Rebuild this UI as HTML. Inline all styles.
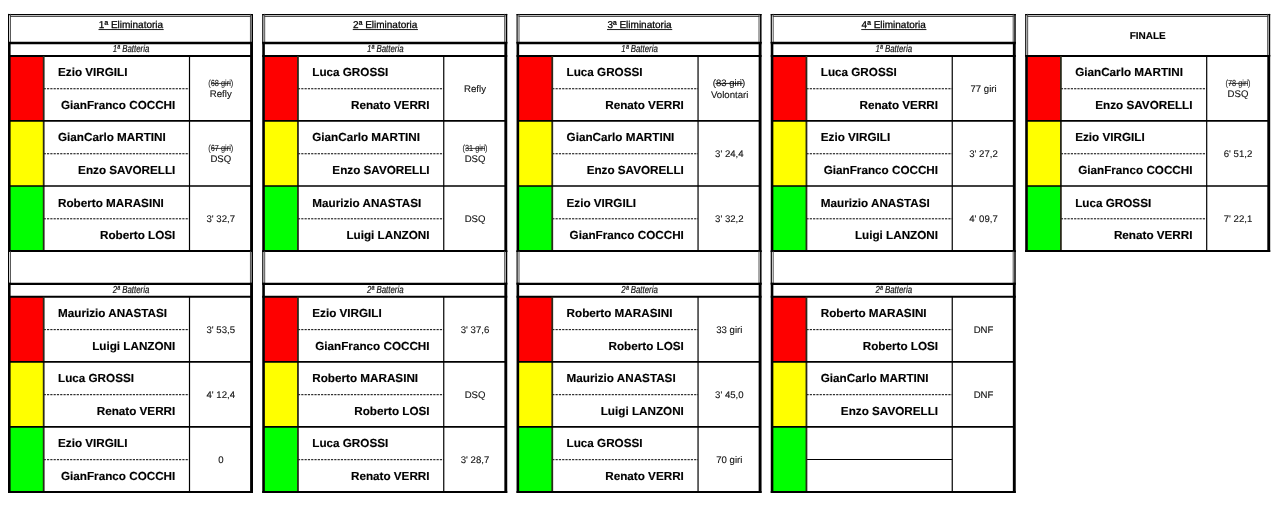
<!DOCTYPE html>
<html><head><meta charset="utf-8"><title>Eliminatorie</title>
<style>html,body{margin:0;padding:0;background:#fff;overflow:hidden;font-family:"Liberation Sans",sans-serif;}
svg{display:block;will-change:transform;font-family:"Liberation Sans",sans-serif;}</style></head>
<body>
<svg width="1280" height="505" viewBox="0 0 1280 505" font-family="Liberation Sans, sans-serif" text-rendering="geometricPrecision">
<rect x="10.00" y="56.00" width="33.70" height="64.90" fill="#fe0000"/>
<rect x="10.00" y="120.90" width="33.70" height="65.10" fill="#ffff00"/>
<rect x="10.00" y="186.00" width="33.70" height="65.00" fill="#00ff00"/>
<rect x="10.00" y="296.80" width="33.70" height="65.10" fill="#fe0000"/>
<rect x="10.00" y="361.90" width="33.70" height="65.00" fill="#ffff00"/>
<rect x="10.00" y="426.90" width="33.70" height="65.00" fill="#00ff00"/>
<rect x="264.25" y="56.00" width="33.70" height="64.90" fill="#fe0000"/>
<rect x="264.25" y="120.90" width="33.70" height="65.10" fill="#ffff00"/>
<rect x="264.25" y="186.00" width="33.70" height="65.00" fill="#00ff00"/>
<rect x="264.25" y="296.80" width="33.70" height="65.10" fill="#fe0000"/>
<rect x="264.25" y="361.90" width="33.70" height="65.00" fill="#ffff00"/>
<rect x="264.25" y="426.90" width="33.70" height="65.00" fill="#00ff00"/>
<rect x="518.55" y="56.00" width="33.70" height="64.90" fill="#fe0000"/>
<rect x="518.55" y="120.90" width="33.70" height="65.10" fill="#ffff00"/>
<rect x="518.55" y="186.00" width="33.70" height="65.00" fill="#00ff00"/>
<rect x="518.55" y="296.80" width="33.70" height="65.10" fill="#fe0000"/>
<rect x="518.55" y="361.90" width="33.70" height="65.00" fill="#ffff00"/>
<rect x="518.55" y="426.90" width="33.70" height="65.00" fill="#00ff00"/>
<rect x="772.75" y="56.00" width="33.70" height="64.90" fill="#fe0000"/>
<rect x="772.75" y="120.90" width="33.70" height="65.10" fill="#ffff00"/>
<rect x="772.75" y="186.00" width="33.70" height="65.00" fill="#00ff00"/>
<rect x="772.75" y="296.80" width="33.70" height="65.10" fill="#fe0000"/>
<rect x="772.75" y="361.90" width="33.70" height="65.00" fill="#ffff00"/>
<rect x="772.75" y="426.90" width="33.70" height="65.00" fill="#00ff00"/>
<rect x="1027.20" y="56.00" width="33.70" height="64.90" fill="#fe0000"/>
<rect x="1027.20" y="120.90" width="33.70" height="65.10" fill="#ffff00"/>
<rect x="1027.20" y="186.00" width="33.70" height="65.00" fill="#00ff00"/>
<line x1="8.00" y1="14.60" x2="253.00" y2="14.60" stroke="#000" stroke-width="1.3" />
<line x1="10.00" y1="16.50" x2="251.00" y2="16.50" stroke="#3c3c3c" stroke-width="0.9" />
<line x1="8.55" y1="13.90" x2="8.55" y2="43.00" stroke="#000" stroke-width="1.15" />
<line x1="10.45" y1="13.90" x2="10.45" y2="43.00" stroke="#3c3c3c" stroke-width="0.9" />
<line x1="252.25" y1="13.90" x2="252.25" y2="43.00" stroke="#000" stroke-width="1.5" />
<line x1="250.45" y1="13.90" x2="250.45" y2="43.00" stroke="#3c3c3c" stroke-width="0.9" />
<text x="131.00" y="28.20" font-size="10" text-anchor="middle" font-weight="normal" font-style="normal" fill="#000" stroke="#000" stroke-width="0.25">1ª Eliminatoria</text>
<line x1="98.50" y1="29.55" x2="163.70" y2="29.55" stroke="#000" stroke-width="0.9" />
<line x1="8.00" y1="43.00" x2="253.00" y2="43.00" stroke="#000" stroke-width="2.3" />
<line x1="9.30" y1="42.00" x2="9.30" y2="252.00" stroke="#000" stroke-width="2.6" />
<line x1="251.55" y1="42.00" x2="251.55" y2="252.00" stroke="#000" stroke-width="2.9" />
<text x="131.00" y="52.20" font-size="10.2" text-anchor="middle" font-weight="normal" font-style="italic" fill="#111" textLength="36.6" lengthAdjust="spacingAndGlyphs" stroke="#111" stroke-width="0.2">1ª Batteria</text>
<line x1="8.00" y1="56.00" x2="253.00" y2="56.00" stroke="#000" stroke-width="2.1" />
<line x1="43.70" y1="88.75" x2="189.50" y2="88.75" stroke="#000" stroke-width="1" stroke-dasharray="2.2 1.1"/>
<text x="58.00" y="76.45" font-size="11.7" text-anchor="start" font-weight="bold" font-style="normal" fill="#000" stroke="#000" stroke-width="0.15">Ezio VIRGILI</text>
<text x="175.30" y="109.25" font-size="11.7" text-anchor="end" font-weight="bold" font-style="normal" fill="#000" stroke="#000" stroke-width="0.15">GianFranco COCCHI</text>
<text x="220.80" y="86.05" font-size="8.8" text-anchor="middle" font-weight="normal" font-style="normal" fill="#1a1a1a" textLength="25.0" lengthAdjust="spacingAndGlyphs" stroke="#1a1a1a" stroke-width="0.1">(68 giri)</text>
<line x1="211.20" y1="83.45" x2="230.60" y2="83.45" stroke="#1a1a1a" stroke-width="0.8" />
<text x="220.80" y="97.45" font-size="9.6" text-anchor="middle" font-weight="normal" font-style="normal" fill="#111" stroke="#111" stroke-width="0.12">Refly</text>
<line x1="43.70" y1="153.75" x2="189.50" y2="153.75" stroke="#000" stroke-width="1" stroke-dasharray="2.2 1.1"/>
<text x="58.00" y="141.45" font-size="11.7" text-anchor="start" font-weight="bold" font-style="normal" fill="#000" stroke="#000" stroke-width="0.15">GianCarlo MARTINI</text>
<text x="175.30" y="174.25" font-size="11.7" text-anchor="end" font-weight="bold" font-style="normal" fill="#000" stroke="#000" stroke-width="0.15">Enzo SAVORELLI</text>
<text x="220.80" y="151.05" font-size="8.8" text-anchor="middle" font-weight="normal" font-style="normal" fill="#1a1a1a" textLength="25.0" lengthAdjust="spacingAndGlyphs" stroke="#1a1a1a" stroke-width="0.1">(67 giri)</text>
<line x1="211.20" y1="148.45" x2="230.60" y2="148.45" stroke="#1a1a1a" stroke-width="0.8" />
<text x="220.80" y="162.45" font-size="9.6" text-anchor="middle" font-weight="normal" font-style="normal" fill="#111" stroke="#111" stroke-width="0.12">DSQ</text>
<line x1="43.70" y1="218.80" x2="189.50" y2="218.80" stroke="#000" stroke-width="1" stroke-dasharray="2.2 1.1"/>
<text x="58.00" y="206.50" font-size="11.7" text-anchor="start" font-weight="bold" font-style="normal" fill="#000" stroke="#000" stroke-width="0.15">Roberto MARASINI</text>
<text x="175.30" y="239.30" font-size="11.7" text-anchor="end" font-weight="bold" font-style="normal" fill="#000" stroke="#000" stroke-width="0.15">Roberto LOSI</text>
<text x="220.80" y="221.90" font-size="9.6" text-anchor="middle" font-weight="normal" font-style="normal" fill="#111" stroke="#111" stroke-width="0.12">3' 32,7</text>
<line x1="43.70" y1="56.00" x2="43.70" y2="251.00" stroke="#2a2a1a" stroke-width="1.8" />
<line x1="189.50" y1="56.00" x2="189.50" y2="251.00" stroke="#000" stroke-width="1.2" />
<line x1="9.00" y1="120.90" x2="252.00" y2="120.90" stroke="#000" stroke-width="1.7" />
<line x1="9.00" y1="186.00" x2="252.00" y2="186.00" stroke="#000" stroke-width="1.7" />
<line x1="8.00" y1="251.00" x2="253.00" y2="251.00" stroke="#000" stroke-width="1.8" />
<line x1="8.55" y1="251.00" x2="8.55" y2="283.80" stroke="#000" stroke-width="1.15" />
<line x1="10.45" y1="251.00" x2="10.45" y2="283.80" stroke="#3c3c3c" stroke-width="0.9" />
<line x1="252.25" y1="251.00" x2="252.25" y2="283.80" stroke="#000" stroke-width="1.5" />
<line x1="250.45" y1="251.00" x2="250.45" y2="283.80" stroke="#3c3c3c" stroke-width="0.9" />
<line x1="8.00" y1="283.80" x2="253.00" y2="283.80" stroke="#000" stroke-width="2.2" />
<line x1="9.30" y1="282.80" x2="9.30" y2="492.90" stroke="#000" stroke-width="2.6" />
<line x1="251.55" y1="282.80" x2="251.55" y2="492.90" stroke="#000" stroke-width="2.9" />
<text x="131.00" y="293.10" font-size="10.2" text-anchor="middle" font-weight="normal" font-style="italic" fill="#111" textLength="36.6" lengthAdjust="spacingAndGlyphs" stroke="#111" stroke-width="0.2">2ª Batteria</text>
<line x1="8.00" y1="296.80" x2="253.00" y2="296.80" stroke="#000" stroke-width="2.1" />
<line x1="43.70" y1="329.65" x2="189.50" y2="329.65" stroke="#000" stroke-width="1" stroke-dasharray="2.2 1.1"/>
<text x="58.00" y="317.35" font-size="11.7" text-anchor="start" font-weight="bold" font-style="normal" fill="#000" stroke="#000" stroke-width="0.15">Maurizio ANASTASI</text>
<text x="175.30" y="350.15" font-size="11.7" text-anchor="end" font-weight="bold" font-style="normal" fill="#000" stroke="#000" stroke-width="0.15">Luigi LANZONI</text>
<text x="220.80" y="332.75" font-size="9.6" text-anchor="middle" font-weight="normal" font-style="normal" fill="#111" stroke="#111" stroke-width="0.12">3' 53,5</text>
<line x1="43.70" y1="394.70" x2="189.50" y2="394.70" stroke="#000" stroke-width="1" stroke-dasharray="2.2 1.1"/>
<text x="58.00" y="382.40" font-size="11.7" text-anchor="start" font-weight="bold" font-style="normal" fill="#000" stroke="#000" stroke-width="0.15">Luca GROSSI</text>
<text x="175.30" y="415.20" font-size="11.7" text-anchor="end" font-weight="bold" font-style="normal" fill="#000" stroke="#000" stroke-width="0.15">Renato VERRI</text>
<text x="220.80" y="397.80" font-size="9.6" text-anchor="middle" font-weight="normal" font-style="normal" fill="#111" stroke="#111" stroke-width="0.12">4' 12,4</text>
<line x1="43.70" y1="459.70" x2="189.50" y2="459.70" stroke="#000" stroke-width="1" stroke-dasharray="2.2 1.1"/>
<text x="58.00" y="447.40" font-size="11.7" text-anchor="start" font-weight="bold" font-style="normal" fill="#000" stroke="#000" stroke-width="0.15">Ezio VIRGILI</text>
<text x="175.30" y="480.20" font-size="11.7" text-anchor="end" font-weight="bold" font-style="normal" fill="#000" stroke="#000" stroke-width="0.15">GianFranco COCCHI</text>
<text x="220.80" y="462.80" font-size="9.6" text-anchor="middle" font-weight="normal" font-style="normal" fill="#111" stroke="#111" stroke-width="0.12">0</text>
<line x1="43.70" y1="296.80" x2="43.70" y2="491.90" stroke="#2a2a1a" stroke-width="1.8" />
<line x1="189.50" y1="296.80" x2="189.50" y2="491.90" stroke="#000" stroke-width="1.2" />
<line x1="9.00" y1="361.90" x2="252.00" y2="361.90" stroke="#000" stroke-width="1.7" />
<line x1="9.00" y1="426.90" x2="252.00" y2="426.90" stroke="#000" stroke-width="1.7" />
<line x1="8.00" y1="491.90" x2="253.00" y2="491.90" stroke="#000" stroke-width="2.0" />
<line x1="262.25" y1="14.60" x2="507.25" y2="14.60" stroke="#000" stroke-width="1.3" />
<line x1="264.25" y1="16.50" x2="505.25" y2="16.50" stroke="#3c3c3c" stroke-width="0.9" />
<line x1="262.80" y1="13.90" x2="262.80" y2="43.00" stroke="#000" stroke-width="1.15" />
<line x1="264.70" y1="13.90" x2="264.70" y2="43.00" stroke="#3c3c3c" stroke-width="0.9" />
<line x1="506.50" y1="13.90" x2="506.50" y2="43.00" stroke="#000" stroke-width="1.5" />
<line x1="504.70" y1="13.90" x2="504.70" y2="43.00" stroke="#3c3c3c" stroke-width="0.9" />
<text x="385.25" y="28.20" font-size="10" text-anchor="middle" font-weight="normal" font-style="normal" fill="#000" stroke="#000" stroke-width="0.25">2ª Eliminatoria</text>
<line x1="352.75" y1="29.55" x2="417.95" y2="29.55" stroke="#000" stroke-width="0.9" />
<line x1="262.25" y1="43.00" x2="507.25" y2="43.00" stroke="#000" stroke-width="2.3" />
<line x1="263.55" y1="42.00" x2="263.55" y2="252.00" stroke="#000" stroke-width="2.6" />
<line x1="505.80" y1="42.00" x2="505.80" y2="252.00" stroke="#000" stroke-width="2.9" />
<text x="385.25" y="52.20" font-size="10.2" text-anchor="middle" font-weight="normal" font-style="italic" fill="#111" textLength="36.6" lengthAdjust="spacingAndGlyphs" stroke="#111" stroke-width="0.2">1ª Batteria</text>
<line x1="262.25" y1="56.00" x2="507.25" y2="56.00" stroke="#000" stroke-width="2.1" />
<line x1="297.95" y1="88.75" x2="443.75" y2="88.75" stroke="#000" stroke-width="1" stroke-dasharray="2.2 1.1"/>
<text x="312.25" y="76.45" font-size="11.7" text-anchor="start" font-weight="bold" font-style="normal" fill="#000" stroke="#000" stroke-width="0.15">Luca GROSSI</text>
<text x="429.55" y="109.25" font-size="11.7" text-anchor="end" font-weight="bold" font-style="normal" fill="#000" stroke="#000" stroke-width="0.15">Renato VERRI</text>
<text x="475.05" y="91.85" font-size="9.6" text-anchor="middle" font-weight="normal" font-style="normal" fill="#111" stroke="#111" stroke-width="0.12">Refly</text>
<line x1="297.95" y1="153.75" x2="443.75" y2="153.75" stroke="#000" stroke-width="1" stroke-dasharray="2.2 1.1"/>
<text x="312.25" y="141.45" font-size="11.7" text-anchor="start" font-weight="bold" font-style="normal" fill="#000" stroke="#000" stroke-width="0.15">GianCarlo MARTINI</text>
<text x="429.55" y="174.25" font-size="11.7" text-anchor="end" font-weight="bold" font-style="normal" fill="#000" stroke="#000" stroke-width="0.15">Enzo SAVORELLI</text>
<text x="475.05" y="151.05" font-size="8.8" text-anchor="middle" font-weight="normal" font-style="normal" fill="#1a1a1a" textLength="25.0" lengthAdjust="spacingAndGlyphs" stroke="#1a1a1a" stroke-width="0.1">(31 giri)</text>
<line x1="465.45" y1="148.45" x2="484.85" y2="148.45" stroke="#1a1a1a" stroke-width="0.8" />
<text x="475.05" y="162.45" font-size="9.6" text-anchor="middle" font-weight="normal" font-style="normal" fill="#111" stroke="#111" stroke-width="0.12">DSQ</text>
<line x1="297.95" y1="218.80" x2="443.75" y2="218.80" stroke="#000" stroke-width="1" stroke-dasharray="2.2 1.1"/>
<text x="312.25" y="206.50" font-size="11.7" text-anchor="start" font-weight="bold" font-style="normal" fill="#000" stroke="#000" stroke-width="0.15">Maurizio ANASTASI</text>
<text x="429.55" y="239.30" font-size="11.7" text-anchor="end" font-weight="bold" font-style="normal" fill="#000" stroke="#000" stroke-width="0.15">Luigi LANZONI</text>
<text x="475.05" y="221.90" font-size="9.6" text-anchor="middle" font-weight="normal" font-style="normal" fill="#111" stroke="#111" stroke-width="0.12">DSQ</text>
<line x1="297.95" y1="56.00" x2="297.95" y2="251.00" stroke="#2a2a1a" stroke-width="1.8" />
<line x1="443.75" y1="56.00" x2="443.75" y2="251.00" stroke="#000" stroke-width="1.2" />
<line x1="263.25" y1="120.90" x2="506.25" y2="120.90" stroke="#000" stroke-width="1.7" />
<line x1="263.25" y1="186.00" x2="506.25" y2="186.00" stroke="#000" stroke-width="1.7" />
<line x1="262.25" y1="251.00" x2="507.25" y2="251.00" stroke="#000" stroke-width="1.8" />
<line x1="262.80" y1="251.00" x2="262.80" y2="283.80" stroke="#000" stroke-width="1.15" />
<line x1="264.70" y1="251.00" x2="264.70" y2="283.80" stroke="#3c3c3c" stroke-width="0.9" />
<line x1="506.50" y1="251.00" x2="506.50" y2="283.80" stroke="#000" stroke-width="1.5" />
<line x1="504.70" y1="251.00" x2="504.70" y2="283.80" stroke="#3c3c3c" stroke-width="0.9" />
<line x1="262.25" y1="283.80" x2="507.25" y2="283.80" stroke="#000" stroke-width="2.2" />
<line x1="263.55" y1="282.80" x2="263.55" y2="492.90" stroke="#000" stroke-width="2.6" />
<line x1="505.80" y1="282.80" x2="505.80" y2="492.90" stroke="#000" stroke-width="2.9" />
<text x="385.25" y="293.10" font-size="10.2" text-anchor="middle" font-weight="normal" font-style="italic" fill="#111" textLength="36.6" lengthAdjust="spacingAndGlyphs" stroke="#111" stroke-width="0.2">2ª Batteria</text>
<line x1="262.25" y1="296.80" x2="507.25" y2="296.80" stroke="#000" stroke-width="2.1" />
<line x1="297.95" y1="329.65" x2="443.75" y2="329.65" stroke="#000" stroke-width="1" stroke-dasharray="2.2 1.1"/>
<text x="312.25" y="317.35" font-size="11.7" text-anchor="start" font-weight="bold" font-style="normal" fill="#000" stroke="#000" stroke-width="0.15">Ezio VIRGILI</text>
<text x="429.55" y="350.15" font-size="11.7" text-anchor="end" font-weight="bold" font-style="normal" fill="#000" stroke="#000" stroke-width="0.15">GianFranco COCCHI</text>
<text x="475.05" y="332.75" font-size="9.6" text-anchor="middle" font-weight="normal" font-style="normal" fill="#111" stroke="#111" stroke-width="0.12">3' 37,6</text>
<line x1="297.95" y1="394.70" x2="443.75" y2="394.70" stroke="#000" stroke-width="1" stroke-dasharray="2.2 1.1"/>
<text x="312.25" y="382.40" font-size="11.7" text-anchor="start" font-weight="bold" font-style="normal" fill="#000" stroke="#000" stroke-width="0.15">Roberto MARASINI</text>
<text x="429.55" y="415.20" font-size="11.7" text-anchor="end" font-weight="bold" font-style="normal" fill="#000" stroke="#000" stroke-width="0.15">Roberto LOSI</text>
<text x="475.05" y="397.80" font-size="9.6" text-anchor="middle" font-weight="normal" font-style="normal" fill="#111" stroke="#111" stroke-width="0.12">DSQ</text>
<line x1="297.95" y1="459.70" x2="443.75" y2="459.70" stroke="#000" stroke-width="1" stroke-dasharray="2.2 1.1"/>
<text x="312.25" y="447.40" font-size="11.7" text-anchor="start" font-weight="bold" font-style="normal" fill="#000" stroke="#000" stroke-width="0.15">Luca GROSSI</text>
<text x="429.55" y="480.20" font-size="11.7" text-anchor="end" font-weight="bold" font-style="normal" fill="#000" stroke="#000" stroke-width="0.15">Renato VERRI</text>
<text x="475.05" y="462.80" font-size="9.6" text-anchor="middle" font-weight="normal" font-style="normal" fill="#111" stroke="#111" stroke-width="0.12">3' 28,7</text>
<line x1="297.95" y1="296.80" x2="297.95" y2="491.90" stroke="#2a2a1a" stroke-width="1.8" />
<line x1="443.75" y1="296.80" x2="443.75" y2="491.90" stroke="#000" stroke-width="1.2" />
<line x1="263.25" y1="361.90" x2="506.25" y2="361.90" stroke="#000" stroke-width="1.7" />
<line x1="263.25" y1="426.90" x2="506.25" y2="426.90" stroke="#000" stroke-width="1.7" />
<line x1="262.25" y1="491.90" x2="507.25" y2="491.90" stroke="#000" stroke-width="2.0" />
<line x1="516.55" y1="14.60" x2="761.55" y2="14.60" stroke="#000" stroke-width="1.3" />
<line x1="518.55" y1="16.50" x2="759.55" y2="16.50" stroke="#3c3c3c" stroke-width="0.9" />
<line x1="517.10" y1="13.90" x2="517.10" y2="43.00" stroke="#000" stroke-width="1.15" />
<line x1="519.00" y1="13.90" x2="519.00" y2="43.00" stroke="#3c3c3c" stroke-width="0.9" />
<line x1="760.80" y1="13.90" x2="760.80" y2="43.00" stroke="#000" stroke-width="1.5" />
<line x1="759.00" y1="13.90" x2="759.00" y2="43.00" stroke="#3c3c3c" stroke-width="0.9" />
<text x="639.55" y="28.20" font-size="10" text-anchor="middle" font-weight="normal" font-style="normal" fill="#000" stroke="#000" stroke-width="0.25">3ª Eliminatoria</text>
<line x1="607.05" y1="29.55" x2="672.25" y2="29.55" stroke="#000" stroke-width="0.9" />
<line x1="516.55" y1="43.00" x2="761.55" y2="43.00" stroke="#000" stroke-width="2.3" />
<line x1="517.85" y1="42.00" x2="517.85" y2="252.00" stroke="#000" stroke-width="2.6" />
<line x1="760.10" y1="42.00" x2="760.10" y2="252.00" stroke="#000" stroke-width="2.9" />
<text x="639.55" y="52.20" font-size="10.2" text-anchor="middle" font-weight="normal" font-style="italic" fill="#111" textLength="36.6" lengthAdjust="spacingAndGlyphs" stroke="#111" stroke-width="0.2">1ª Batteria</text>
<line x1="516.55" y1="56.00" x2="761.55" y2="56.00" stroke="#000" stroke-width="2.1" />
<line x1="552.25" y1="88.75" x2="698.05" y2="88.75" stroke="#000" stroke-width="1" stroke-dasharray="2.2 1.1"/>
<text x="566.55" y="76.45" font-size="11.7" text-anchor="start" font-weight="bold" font-style="normal" fill="#000" stroke="#000" stroke-width="0.15">Luca GROSSI</text>
<text x="683.85" y="109.25" font-size="11.7" text-anchor="end" font-weight="bold" font-style="normal" fill="#000" stroke="#000" stroke-width="0.15">Renato VERRI</text>
<text x="728.95" y="86.15" font-size="9.2" text-anchor="middle" font-weight="normal" font-style="normal" fill="#111" textLength="32.4" lengthAdjust="spacingAndGlyphs" stroke="#111" stroke-width="0.12">(83 giri)</text>
<line x1="715.45" y1="83.45" x2="742.75" y2="83.45" stroke="#111" stroke-width="0.9" />
<text x="729.65" y="97.75" font-size="9.6" text-anchor="middle" font-weight="normal" font-style="normal" fill="#111" stroke="#111" stroke-width="0.12">Volontari</text>
<line x1="552.25" y1="153.75" x2="698.05" y2="153.75" stroke="#000" stroke-width="1" stroke-dasharray="2.2 1.1"/>
<text x="566.55" y="141.45" font-size="11.7" text-anchor="start" font-weight="bold" font-style="normal" fill="#000" stroke="#000" stroke-width="0.15">GianCarlo MARTINI</text>
<text x="683.85" y="174.25" font-size="11.7" text-anchor="end" font-weight="bold" font-style="normal" fill="#000" stroke="#000" stroke-width="0.15">Enzo SAVORELLI</text>
<text x="729.35" y="156.85" font-size="9.6" text-anchor="middle" font-weight="normal" font-style="normal" fill="#111" stroke="#111" stroke-width="0.12">3' 24,4</text>
<line x1="552.25" y1="218.80" x2="698.05" y2="218.80" stroke="#000" stroke-width="1" stroke-dasharray="2.2 1.1"/>
<text x="566.55" y="206.50" font-size="11.7" text-anchor="start" font-weight="bold" font-style="normal" fill="#000" stroke="#000" stroke-width="0.15">Ezio VIRGILI</text>
<text x="683.85" y="239.30" font-size="11.7" text-anchor="end" font-weight="bold" font-style="normal" fill="#000" stroke="#000" stroke-width="0.15">GianFranco COCCHI</text>
<text x="729.35" y="221.90" font-size="9.6" text-anchor="middle" font-weight="normal" font-style="normal" fill="#111" stroke="#111" stroke-width="0.12">3' 32,2</text>
<line x1="552.25" y1="56.00" x2="552.25" y2="251.00" stroke="#2a2a1a" stroke-width="1.8" />
<line x1="698.05" y1="56.00" x2="698.05" y2="251.00" stroke="#000" stroke-width="1.2" />
<line x1="517.55" y1="120.90" x2="760.55" y2="120.90" stroke="#000" stroke-width="1.7" />
<line x1="517.55" y1="186.00" x2="760.55" y2="186.00" stroke="#000" stroke-width="1.7" />
<line x1="516.55" y1="251.00" x2="761.55" y2="251.00" stroke="#000" stroke-width="1.8" />
<line x1="517.10" y1="251.00" x2="517.10" y2="283.80" stroke="#000" stroke-width="1.15" />
<line x1="519.00" y1="251.00" x2="519.00" y2="283.80" stroke="#3c3c3c" stroke-width="0.9" />
<line x1="760.80" y1="251.00" x2="760.80" y2="283.80" stroke="#000" stroke-width="1.5" />
<line x1="759.00" y1="251.00" x2="759.00" y2="283.80" stroke="#3c3c3c" stroke-width="0.9" />
<line x1="516.55" y1="283.80" x2="761.55" y2="283.80" stroke="#000" stroke-width="2.2" />
<line x1="517.85" y1="282.80" x2="517.85" y2="492.90" stroke="#000" stroke-width="2.6" />
<line x1="760.10" y1="282.80" x2="760.10" y2="492.90" stroke="#000" stroke-width="2.9" />
<text x="639.55" y="293.10" font-size="10.2" text-anchor="middle" font-weight="normal" font-style="italic" fill="#111" textLength="36.6" lengthAdjust="spacingAndGlyphs" stroke="#111" stroke-width="0.2">2ª Batteria</text>
<line x1="516.55" y1="296.80" x2="761.55" y2="296.80" stroke="#000" stroke-width="2.1" />
<line x1="552.25" y1="329.65" x2="698.05" y2="329.65" stroke="#000" stroke-width="1" stroke-dasharray="2.2 1.1"/>
<text x="566.55" y="317.35" font-size="11.7" text-anchor="start" font-weight="bold" font-style="normal" fill="#000" stroke="#000" stroke-width="0.15">Roberto MARASINI</text>
<text x="683.85" y="350.15" font-size="11.7" text-anchor="end" font-weight="bold" font-style="normal" fill="#000" stroke="#000" stroke-width="0.15">Roberto LOSI</text>
<text x="729.35" y="332.75" font-size="9.6" text-anchor="middle" font-weight="normal" font-style="normal" fill="#111" stroke="#111" stroke-width="0.12">33 giri</text>
<line x1="552.25" y1="394.70" x2="698.05" y2="394.70" stroke="#000" stroke-width="1" stroke-dasharray="2.2 1.1"/>
<text x="566.55" y="382.40" font-size="11.7" text-anchor="start" font-weight="bold" font-style="normal" fill="#000" stroke="#000" stroke-width="0.15">Maurizio ANASTASI</text>
<text x="683.85" y="415.20" font-size="11.7" text-anchor="end" font-weight="bold" font-style="normal" fill="#000" stroke="#000" stroke-width="0.15">Luigi LANZONI</text>
<text x="729.35" y="397.80" font-size="9.6" text-anchor="middle" font-weight="normal" font-style="normal" fill="#111" stroke="#111" stroke-width="0.12">3' 45,0</text>
<line x1="552.25" y1="459.70" x2="698.05" y2="459.70" stroke="#000" stroke-width="1" stroke-dasharray="2.2 1.1"/>
<text x="566.55" y="447.40" font-size="11.7" text-anchor="start" font-weight="bold" font-style="normal" fill="#000" stroke="#000" stroke-width="0.15">Luca GROSSI</text>
<text x="683.85" y="480.20" font-size="11.7" text-anchor="end" font-weight="bold" font-style="normal" fill="#000" stroke="#000" stroke-width="0.15">Renato VERRI</text>
<text x="729.35" y="462.80" font-size="9.6" text-anchor="middle" font-weight="normal" font-style="normal" fill="#111" stroke="#111" stroke-width="0.12">70 giri</text>
<line x1="552.25" y1="296.80" x2="552.25" y2="491.90" stroke="#2a2a1a" stroke-width="1.8" />
<line x1="698.05" y1="296.80" x2="698.05" y2="491.90" stroke="#000" stroke-width="1.2" />
<line x1="517.55" y1="361.90" x2="760.55" y2="361.90" stroke="#000" stroke-width="1.7" />
<line x1="517.55" y1="426.90" x2="760.55" y2="426.90" stroke="#000" stroke-width="1.7" />
<line x1="516.55" y1="491.90" x2="761.55" y2="491.90" stroke="#000" stroke-width="2.0" />
<line x1="770.75" y1="14.60" x2="1015.75" y2="14.60" stroke="#000" stroke-width="1.3" />
<line x1="772.75" y1="16.50" x2="1013.75" y2="16.50" stroke="#3c3c3c" stroke-width="0.9" />
<line x1="771.30" y1="13.90" x2="771.30" y2="43.00" stroke="#000" stroke-width="1.15" />
<line x1="773.20" y1="13.90" x2="773.20" y2="43.00" stroke="#3c3c3c" stroke-width="0.9" />
<line x1="1015.00" y1="13.90" x2="1015.00" y2="43.00" stroke="#000" stroke-width="1.5" />
<line x1="1013.20" y1="13.90" x2="1013.20" y2="43.00" stroke="#3c3c3c" stroke-width="0.9" />
<text x="893.75" y="28.20" font-size="10" text-anchor="middle" font-weight="normal" font-style="normal" fill="#000" stroke="#000" stroke-width="0.25">4ª Eliminatoria</text>
<line x1="861.25" y1="29.55" x2="926.45" y2="29.55" stroke="#000" stroke-width="0.9" />
<line x1="770.75" y1="43.00" x2="1015.75" y2="43.00" stroke="#000" stroke-width="2.3" />
<line x1="772.05" y1="42.00" x2="772.05" y2="252.00" stroke="#000" stroke-width="2.6" />
<line x1="1014.30" y1="42.00" x2="1014.30" y2="252.00" stroke="#000" stroke-width="2.9" />
<text x="893.75" y="52.20" font-size="10.2" text-anchor="middle" font-weight="normal" font-style="italic" fill="#111" textLength="36.6" lengthAdjust="spacingAndGlyphs" stroke="#111" stroke-width="0.2">1ª Batteria</text>
<line x1="770.75" y1="56.00" x2="1015.75" y2="56.00" stroke="#000" stroke-width="2.1" />
<line x1="806.45" y1="88.75" x2="952.25" y2="88.75" stroke="#000" stroke-width="1" stroke-dasharray="2.2 1.1"/>
<text x="820.75" y="76.45" font-size="11.7" text-anchor="start" font-weight="bold" font-style="normal" fill="#000" stroke="#000" stroke-width="0.15">Luca GROSSI</text>
<text x="938.05" y="109.25" font-size="11.7" text-anchor="end" font-weight="bold" font-style="normal" fill="#000" stroke="#000" stroke-width="0.15">Renato VERRI</text>
<text x="983.55" y="91.85" font-size="9.6" text-anchor="middle" font-weight="normal" font-style="normal" fill="#111" stroke="#111" stroke-width="0.12">77 giri</text>
<line x1="806.45" y1="153.75" x2="952.25" y2="153.75" stroke="#000" stroke-width="1" stroke-dasharray="2.2 1.1"/>
<text x="820.75" y="141.45" font-size="11.7" text-anchor="start" font-weight="bold" font-style="normal" fill="#000" stroke="#000" stroke-width="0.15">Ezio VIRGILI</text>
<text x="938.05" y="174.25" font-size="11.7" text-anchor="end" font-weight="bold" font-style="normal" fill="#000" stroke="#000" stroke-width="0.15">GianFranco COCCHI</text>
<text x="983.55" y="156.85" font-size="9.6" text-anchor="middle" font-weight="normal" font-style="normal" fill="#111" stroke="#111" stroke-width="0.12">3' 27,2</text>
<line x1="806.45" y1="218.80" x2="952.25" y2="218.80" stroke="#000" stroke-width="1" stroke-dasharray="2.2 1.1"/>
<text x="820.75" y="206.50" font-size="11.7" text-anchor="start" font-weight="bold" font-style="normal" fill="#000" stroke="#000" stroke-width="0.15">Maurizio ANASTASI</text>
<text x="938.05" y="239.30" font-size="11.7" text-anchor="end" font-weight="bold" font-style="normal" fill="#000" stroke="#000" stroke-width="0.15">Luigi LANZONI</text>
<text x="983.55" y="221.90" font-size="9.6" text-anchor="middle" font-weight="normal" font-style="normal" fill="#111" stroke="#111" stroke-width="0.12">4' 09,7</text>
<line x1="806.45" y1="56.00" x2="806.45" y2="251.00" stroke="#2a2a1a" stroke-width="1.8" />
<line x1="952.25" y1="56.00" x2="952.25" y2="251.00" stroke="#000" stroke-width="1.2" />
<line x1="771.75" y1="120.90" x2="1014.75" y2="120.90" stroke="#000" stroke-width="1.7" />
<line x1="771.75" y1="186.00" x2="1014.75" y2="186.00" stroke="#000" stroke-width="1.7" />
<line x1="770.75" y1="251.00" x2="1015.75" y2="251.00" stroke="#000" stroke-width="1.8" />
<line x1="771.30" y1="251.00" x2="771.30" y2="283.80" stroke="#000" stroke-width="1.15" />
<line x1="773.20" y1="251.00" x2="773.20" y2="283.80" stroke="#3c3c3c" stroke-width="0.9" />
<line x1="1015.00" y1="251.00" x2="1015.00" y2="283.80" stroke="#000" stroke-width="1.5" />
<line x1="1013.20" y1="251.00" x2="1013.20" y2="283.80" stroke="#3c3c3c" stroke-width="0.9" />
<line x1="770.75" y1="283.80" x2="1015.75" y2="283.80" stroke="#000" stroke-width="2.2" />
<line x1="772.05" y1="282.80" x2="772.05" y2="492.90" stroke="#000" stroke-width="2.6" />
<line x1="1014.30" y1="282.80" x2="1014.30" y2="492.90" stroke="#000" stroke-width="2.9" />
<text x="893.75" y="293.10" font-size="10.2" text-anchor="middle" font-weight="normal" font-style="italic" fill="#111" textLength="36.6" lengthAdjust="spacingAndGlyphs" stroke="#111" stroke-width="0.2">2ª Batteria</text>
<line x1="770.75" y1="296.80" x2="1015.75" y2="296.80" stroke="#000" stroke-width="2.1" />
<line x1="806.45" y1="329.65" x2="952.25" y2="329.65" stroke="#000" stroke-width="1" stroke-dasharray="2.2 1.1"/>
<text x="820.75" y="317.35" font-size="11.7" text-anchor="start" font-weight="bold" font-style="normal" fill="#000" stroke="#000" stroke-width="0.15">Roberto MARASINI</text>
<text x="938.05" y="350.15" font-size="11.7" text-anchor="end" font-weight="bold" font-style="normal" fill="#000" stroke="#000" stroke-width="0.15">Roberto LOSI</text>
<text x="983.55" y="332.75" font-size="9.6" text-anchor="middle" font-weight="normal" font-style="normal" fill="#111" stroke="#111" stroke-width="0.12">DNF</text>
<line x1="806.45" y1="394.70" x2="952.25" y2="394.70" stroke="#000" stroke-width="1" stroke-dasharray="2.2 1.1"/>
<text x="820.75" y="382.40" font-size="11.7" text-anchor="start" font-weight="bold" font-style="normal" fill="#000" stroke="#000" stroke-width="0.15">GianCarlo MARTINI</text>
<text x="938.05" y="415.20" font-size="11.7" text-anchor="end" font-weight="bold" font-style="normal" fill="#000" stroke="#000" stroke-width="0.15">Enzo SAVORELLI</text>
<text x="983.55" y="397.80" font-size="9.6" text-anchor="middle" font-weight="normal" font-style="normal" fill="#111" stroke="#111" stroke-width="0.12">DNF</text>
<line x1="806.45" y1="459.50" x2="952.25" y2="459.50" stroke="#000" stroke-width="1.1" />
<line x1="806.45" y1="296.80" x2="806.45" y2="491.90" stroke="#2a2a1a" stroke-width="1.8" />
<line x1="952.25" y1="296.80" x2="952.25" y2="491.90" stroke="#000" stroke-width="1.2" />
<line x1="771.75" y1="361.90" x2="1014.75" y2="361.90" stroke="#000" stroke-width="1.7" />
<line x1="771.75" y1="426.90" x2="1014.75" y2="426.90" stroke="#000" stroke-width="1.7" />
<line x1="770.75" y1="491.90" x2="1015.75" y2="491.90" stroke="#000" stroke-width="2.0" />
<line x1="1025.20" y1="14.60" x2="1270.20" y2="14.60" stroke="#000" stroke-width="1.3" />
<line x1="1027.20" y1="16.50" x2="1268.20" y2="16.50" stroke="#3c3c3c" stroke-width="0.9" />
<line x1="1025.75" y1="13.90" x2="1025.75" y2="56.00" stroke="#000" stroke-width="1.15" />
<line x1="1027.65" y1="13.90" x2="1027.65" y2="56.00" stroke="#3c3c3c" stroke-width="0.9" />
<line x1="1269.45" y1="13.90" x2="1269.45" y2="56.00" stroke="#000" stroke-width="1.5" />
<line x1="1267.65" y1="13.90" x2="1267.65" y2="56.00" stroke="#3c3c3c" stroke-width="0.9" />
<text x="1147.70" y="38.60" font-size="10" text-anchor="middle" font-weight="bold" font-style="normal" fill="#000" stroke="#000" stroke-width="0.15">FINALE</text>
<line x1="1025.20" y1="56.00" x2="1270.20" y2="56.00" stroke="#000" stroke-width="2.2" />
<line x1="1026.50" y1="55.00" x2="1026.50" y2="252.00" stroke="#000" stroke-width="2.6" />
<line x1="1268.75" y1="55.00" x2="1268.75" y2="252.00" stroke="#000" stroke-width="2.9" />
<line x1="1060.90" y1="88.75" x2="1206.70" y2="88.75" stroke="#000" stroke-width="1" stroke-dasharray="2.2 1.1"/>
<text x="1075.20" y="76.45" font-size="11.7" text-anchor="start" font-weight="bold" font-style="normal" fill="#000" stroke="#000" stroke-width="0.15">GianCarlo MARTINI</text>
<text x="1192.50" y="109.25" font-size="11.7" text-anchor="end" font-weight="bold" font-style="normal" fill="#000" stroke="#000" stroke-width="0.15">Enzo SAVORELLI</text>
<text x="1238.00" y="86.05" font-size="8.8" text-anchor="middle" font-weight="normal" font-style="normal" fill="#1a1a1a" textLength="25.0" lengthAdjust="spacingAndGlyphs" stroke="#1a1a1a" stroke-width="0.1">(78 giri)</text>
<line x1="1228.40" y1="83.45" x2="1247.80" y2="83.45" stroke="#1a1a1a" stroke-width="0.8" />
<text x="1238.00" y="97.45" font-size="9.6" text-anchor="middle" font-weight="normal" font-style="normal" fill="#111" stroke="#111" stroke-width="0.12">DSQ</text>
<line x1="1060.90" y1="153.75" x2="1206.70" y2="153.75" stroke="#000" stroke-width="1" stroke-dasharray="2.2 1.1"/>
<text x="1075.20" y="141.45" font-size="11.7" text-anchor="start" font-weight="bold" font-style="normal" fill="#000" stroke="#000" stroke-width="0.15">Ezio VIRGILI</text>
<text x="1192.50" y="174.25" font-size="11.7" text-anchor="end" font-weight="bold" font-style="normal" fill="#000" stroke="#000" stroke-width="0.15">GianFranco COCCHI</text>
<text x="1238.00" y="156.85" font-size="9.6" text-anchor="middle" font-weight="normal" font-style="normal" fill="#111" stroke="#111" stroke-width="0.12">6' 51,2</text>
<line x1="1060.90" y1="218.80" x2="1206.70" y2="218.80" stroke="#000" stroke-width="1" stroke-dasharray="2.2 1.1"/>
<text x="1075.20" y="206.50" font-size="11.7" text-anchor="start" font-weight="bold" font-style="normal" fill="#000" stroke="#000" stroke-width="0.15">Luca GROSSI</text>
<text x="1192.50" y="239.30" font-size="11.7" text-anchor="end" font-weight="bold" font-style="normal" fill="#000" stroke="#000" stroke-width="0.15">Renato VERRI</text>
<text x="1238.00" y="221.90" font-size="9.6" text-anchor="middle" font-weight="normal" font-style="normal" fill="#111" stroke="#111" stroke-width="0.12">7' 22,1</text>
<line x1="1060.90" y1="56.00" x2="1060.90" y2="251.00" stroke="#2a2a1a" stroke-width="1.8" />
<line x1="1206.70" y1="56.00" x2="1206.70" y2="251.00" stroke="#000" stroke-width="1.2" />
<line x1="1026.20" y1="120.90" x2="1269.20" y2="120.90" stroke="#000" stroke-width="1.7" />
<line x1="1026.20" y1="186.00" x2="1269.20" y2="186.00" stroke="#000" stroke-width="1.7" />
<line x1="1025.20" y1="251.00" x2="1270.20" y2="251.00" stroke="#000" stroke-width="2.0" />
</svg>
</body></html>
